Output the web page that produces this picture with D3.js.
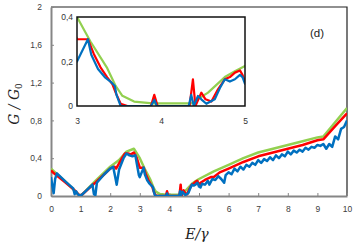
<!DOCTYPE html>
<html>
<head>
<meta charset="utf-8">
<script src="https://cdn.jsdelivr.net/npm/d3@7"></script>
<style>
  html, body { margin: 0; padding: 0; background: #fff; }
  svg { display: block; }
</style>
</head>
<body>
<div id="chart"></div>
<script>
// conductance G/G0 against energy E/gamma, three curves
const greenSeries = [
  [0, 0.29], [0.5, 0.15], [0.95, 0.01], [1.0, 0.0], [1.5, 0.16], [2.0, 0.31], [2.3, 0.38],
  [2.55, 0.47], [2.8, 0.50], [3.0, 0.40], [3.16, 0.29], [3.36, 0.17], [3.46, 0.09],
  [3.54, 0.046], [3.68, 0.02], [3.9, 0.012], [4.36, 0.012], [4.56, 0.06], [4.76, 0.13],
  [4.88, 0.156], [5.0, 0.18], [5.5, 0.26], [6.0, 0.33], [6.5, 0.40], [7.0, 0.46],
  [7.5, 0.50], [8.0, 0.54], [8.5, 0.58], [9.0, 0.62], [9.2, 0.63], [9.6, 0.78], [10, 0.93]
]

const redSeries = [
  [0, 0.27], [0.1, 0.24], [0.5, 0.14], [0.8, 0.06], [0.95, 0.01], [1.0, 0.0], [1.45, 0.13],
  [1.5, 0.14], [2.0, 0.29], [2.15, 0.31], [2.2, 0.29], [2.4, 0.40], [2.5, 0.45], [2.6, 0.45],
  [2.7, 0.44], [2.8, 0.46], [2.9, 0.40], [3.0, 0.30], [3.13, 0.30], [3.2, 0.234],
  [3.28, 0.174], [3.36, 0.129], [3.42, 0.099], [3.46, 0.06], [3.52, 0.01], [3.6, 0],
  [3.88, 0], [3.92, 0.05], [3.96, 0], [4.34, 0], [4.38, 0.12], [4.41, 0], [4.48, 0.06],
  [4.53, 0.03], [4.6, 0.02], [4.68, 0.076], [4.76, 0.12], [4.82, 0.13], [4.88, 0.15],
  [4.94, 0.16], [4.97, 0.14], [5.0, 0.11], [5.05, 0.14], [5.2, 0.17], [5.4, 0.20],
  [5.5, 0.20], [5.7, 0.25], [6.0, 0.29], [6.5, 0.36], [7.0, 0.42], [7.5, 0.46],
  [8.0, 0.50], [8.5, 0.54], [9.0, 0.59], [9.2, 0.60], [9.6, 0.74], [10, 0.875]
]

const blueSeries = [
  [0, 0.20], [0.05, 0.10], [0.09, 0.03], [0.14, 0.18], [0.2, 0.24], [0.5, 0.15], [0.75, 0.08],
  [0.8, 0.02], [0.85, 0.05], [0.9, 0.02], [1.0, 0.0], [1.2, 0.06], [1.4, 0.12], [1.45, 0.02],
  [1.5, 0.01], [1.55, 0.14], [1.8, 0.23], [2.0, 0.29], [2.1, 0.31], [2.17, 0.20], [2.22, 0.12],
  [2.3, 0.28], [2.45, 0.40], [2.55, 0.45], [2.65, 0.43], [2.75, 0.42], [2.85, 0.43],
  [2.9, 0.34], [2.97, 0.22], [3.0, 0.20], [3.13, 0.30], [3.17, 0.23], [3.25, 0.166],
  [3.33, 0.13], [3.41, 0.106], [3.45, 0.09], [3.47, 0.05], [3.52, 0.0], [3.88, 0],
  [3.92, 0.027], [3.95, 0], [4.33, 0], [4.36, 0.05], [4.39, 0], [4.44, 0.045], [4.48, 0.03],
  [4.54, 0.01], [4.64, 0.03], [4.7, 0.08], [4.76, 0.12], [4.82, 0.11], [4.88, 0.12],
  [4.94, 0.14], [4.97, 0.13], [5.0, 0.10], [5.05, 0.09], [5.1, 0.13], [5.2, 0.12],
  [5.3, 0.16], [5.35, 0.12], [5.45, 0.18], [5.55, 0.17], [5.65, 0.21], [5.75, 0.18],
  [5.85, 0.14], [5.9, 0.22], [6.0, 0.25], [6.1, 0.23], [6.2, 0.29], [6.3, 0.26], [6.4, 0.31],
  [6.5, 0.28], [6.6, 0.33], [6.7, 0.31], [6.8, 0.35], [6.9, 0.33], [7.0, 0.38], [7.1, 0.35],
  [7.2, 0.39], [7.3, 0.37], [7.4, 0.41], [7.5, 0.38], [7.6, 0.43], [7.7, 0.40], [7.8, 0.44],
  [7.9, 0.42], [8.0, 0.47], [8.1, 0.44], [8.2, 0.48], [8.3, 0.46], [8.4, 0.49], [8.5, 0.47],
  [8.6, 0.51], [8.7, 0.49], [8.8, 0.52], [8.9, 0.51], [9.0, 0.54], [9.1, 0.53], [9.2, 0.55],
  [9.3, 0.50], [9.4, 0.55], [9.5, 0.52], [9.6, 0.63], [9.7, 0.60], [9.8, 0.71], [9.9, 0.73],
  [10, 0.80]
]

const xTicks = [0, 1, 2, 3, 4, 5, 6, 7, 8, 9, 10]
const yTicks = [0, 0.4, 0.8, 1.2, 1.6, 2]
const insetXTicks = [3, 4, 5]
const insetYTicks = [0, 0.2, 0.4]

const series = [
  { data: greenSeries, color: "#92d050" },
  { data: redSeries, color: "#ff0000" },
  { data: blueSeries, color: "#0070c0" }
]

const width = 355
const height = 246
const comma = d => String(d).replace(".", ",")

const svg = d3.select("#chart").append("svg")
  .attr("width", width)
  .attr("height", height)

const x = d3.scaleLinear().domain([0, 10]).range([51, 347])
const y = d3.scaleLinear().domain([0, 2]).range([196, 7])

// frame top / right
svg.append("path")
  .attr("d", `M${x(0)},${y(2)}H${x(10)}V${y(0)}`)
  .attr("fill", "none")
  .attr("stroke", "#222")
  .attr("stroke-width", 1.2)

// main axes
const xAxis = svg.append("g")
  .attr("transform", `translate(0,${y(0)})`)
  .call(d3.axisBottom(x).tickValues(xTicks).tickSizeInner(-3).tickSizeOuter(0).tickPadding(10))
const yAxis = svg.append("g")
  .attr("transform", `translate(${x(0)},0)`)
  .call(d3.axisLeft(y).tickValues(yTicks).tickFormat(comma).tickSizeInner(-3).tickSizeOuter(0).tickPadding(9))

for (const g of [xAxis, yAxis]) {
  g.select(".domain").attr("stroke", "#868686").attr("stroke-width", 2)
  g.selectAll(".tick line").attr("stroke", "#868686")
  g.selectAll(".tick text")
    .attr("fill", "#404040")
    .attr("font-family", "Liberation Sans, Arial, sans-serif")
    .attr("font-size", "8.5px")
}

svg.append("clipPath").attr("id", "mainClip")
  .append("rect").attr("x", x(0)).attr("y", y(2)).attr("width", x(10) - x(0)).attr("height", y(0) - y(2))

const line = d3.line().x(d => x(d[0])).y(d => y(d[1]))
svg.append("g").attr("clip-path", "url(#mainClip)")
  .selectAll("path").data(series).join("path")
  .attr("d", d => line(d.data))
  .attr("fill", "none")
  .attr("stroke", d => d.color)
  .attr("stroke-width", 2.5)
  .attr("stroke-linejoin", "round")

// inset
const xi = d3.scaleLinear().domain([3, 5]).range([77, 245])
const yi = d3.scaleLinear().domain([0, 0.4]).range([106, 17])

svg.append("rect")
  .attr("x", xi(3)).attr("y", yi(0.4))
  .attr("width", xi(5) - xi(3)).attr("height", yi(0) - yi(0.4))
  .attr("fill", "#fff")

svg.append("clipPath").attr("id", "insetClip")
  .append("rect").attr("x", xi(3)).attr("y", yi(0.4)).attr("width", xi(5) - xi(3)).attr("height", yi(0) - yi(0.4))

const insetLine = d3.line().x(d => xi(d[0])).y(d => yi(d[1]))
svg.append("g").attr("clip-path", "url(#insetClip)")
  .selectAll("path").data(series).join("path")
  .attr("d", d => insetLine(d.data))
  .attr("fill", "none")
  .attr("stroke", d => d.color)
  .attr("stroke-width", 2.2)
  .attr("stroke-linejoin", "round")

svg.append("rect")
  .attr("x", xi(3)).attr("y", yi(0.4))
  .attr("width", xi(5) - xi(3)).attr("height", yi(0) - yi(0.4))
  .attr("fill", "none")
  .attr("stroke", "#111")
  .attr("stroke-width", 1.5)

const ixAxis = svg.append("g")
  .attr("transform", `translate(0,${yi(0)})`)
  .call(d3.axisBottom(xi).tickValues(insetXTicks).tickFormat(d3.format("d")).tickSize(0).tickPadding(12))
const iyAxis = svg.append("g")
  .attr("transform", `translate(${xi(3)},0)`)
  .call(d3.axisLeft(yi).tickValues(insetYTicks).tickFormat(comma).tickSize(0).tickPadding(4))

for (const g of [ixAxis, iyAxis]) {
  g.select(".domain").remove()
  g.selectAll(".tick text")
    .attr("fill", "#333")
    .attr("font-family", "Liberation Sans, Arial, sans-serif")
    .attr("font-size", "8.5px")
}

// labels
svg.append("text")
  .attr("x", 317).attr("y", 37)
  .attr("text-anchor", "middle")
  .attr("font-family", "Liberation Sans, Arial, sans-serif")
  .attr("font-size", "11.5px")
  .attr("fill", "#222")
  .text("(d)")

const yTitle = svg.append("text")
  .attr("transform", "translate(19,104) rotate(-90)")
  .attr("text-anchor", "middle")
  .attr("font-family", "DejaVu Serif, Liberation Serif, serif")
  .attr("font-style", "italic")
  .attr("font-size", "14px")
  .attr("fill", "#222")
yTitle.append("tspan").text("G / G")
yTitle.append("tspan").attr("font-style", "normal").attr("font-size", "9px").attr("dy", 3).text("0")

svg.append("text")
  .attr("x", 197).attr("y", 239)
  .attr("text-anchor", "middle")
  .attr("font-family", "DejaVu Serif, Liberation Serif, serif")
  .attr("font-style", "italic")
  .attr("font-size", "14px")
  .attr("fill", "#222")
  .text("E/γ")
</script>
</body>
</html>
